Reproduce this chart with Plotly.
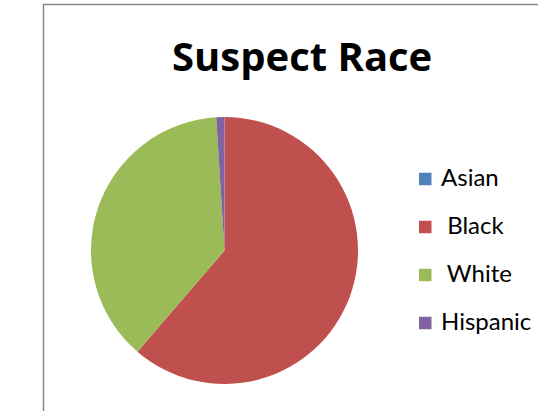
import plotly.graph_objects as go

W, H = 538, 411

title_text = "Suspect Race"
categories = ["Asian", "Black", "White", "Hispanic"]
legend_labels = ["Asian", "\u00a0Black", "\u00a0White", "Hispanic"]
values = [0.0, 61.3, 37.7, 1.0]
colors = ["#4F81BD", "#C0504D", "#9BBB59", "#8064A2"]

fig = go.Figure()
fig.add_trace(go.Pie(
    labels=categories,
    values=values,
    sort=False,
    direction="clockwise",
    rotation=0,
    marker=dict(colors=colors, line=dict(width=0)),
    textinfo="none",
    showlegend=False,
    domain=dict(x=[91 / W, 358 / W], y=[(H - 384) / H, (H - 117) / H]),
))

def px(x):
    return x / W

def py(y):
    return (H - y) / H

shapes = [dict(
    type="path",
    xref="paper", yref="paper",
    path=f"M {px(43.5)},{py(411)} L {px(43.5)},{py(4.5)} L {px(540)},{py(4.5)}",
    line=dict(color="#868686", width=1.5),
)]

annotations = [dict(
    text=f"<b>{title_text}</b>",
    xref="paper", yref="paper",
    x=px(302), y=py(55.5), xanchor="center", yanchor="middle",
    showarrow=False,
    font=dict(family="Open Sans", size=40, color="#000000"),
)]

for i, (lab, col) in enumerate(zip(legend_labels, colors)):
    yc = 179 + 48 * i
    shapes.append(dict(
        type="rect", xref="paper", yref="paper",
        x0=px(419), x1=px(431.5), y0=py(yc - 6.25), y1=py(yc + 6.25),
        fillcolor=col, line=dict(width=0),
    ))
    annotations.append(dict(
        text=lab, xref="paper", yref="paper",
        x=px(439), y=py(yc - 2.5), xanchor="left", yanchor="middle",
        showarrow=False,
        font=dict(family="Lato", size=24, color="#000000"),
    ))

fig.update_layout(
    width=W, height=H,
    margin=dict(l=0, r=0, t=0, b=0),
    paper_bgcolor="white",
    plot_bgcolor="white",
    shapes=shapes,
    annotations=annotations,
)

fig.write_html(
    "out.html",
    config={"displayModeBar": False},
    post_script="document.body.style.margin='0';document.body.style.overflow='hidden';",
)
